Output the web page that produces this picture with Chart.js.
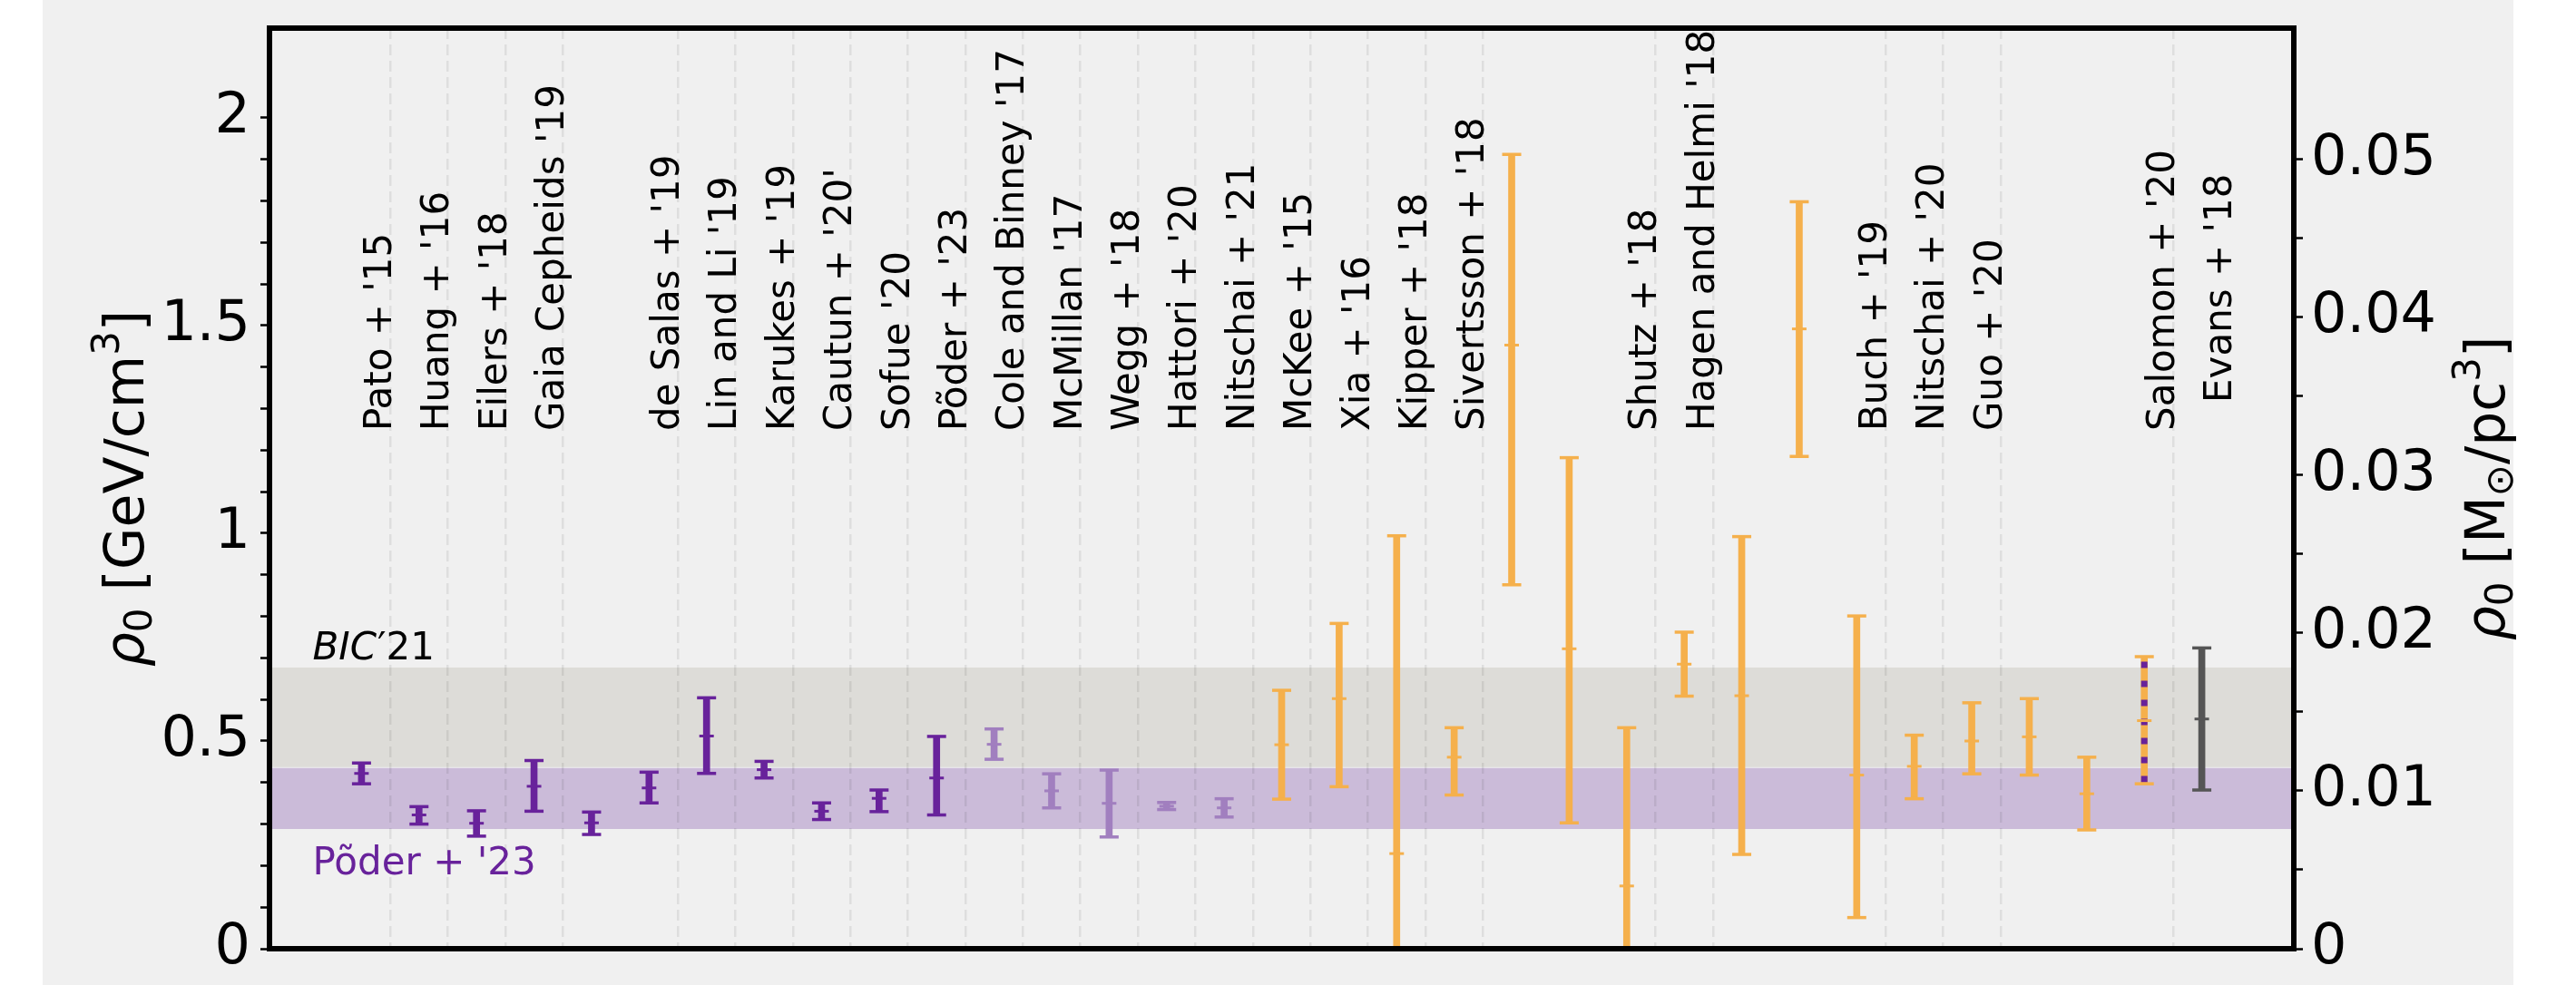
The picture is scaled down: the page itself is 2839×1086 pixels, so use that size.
<!DOCTYPE html>
<html lang="en">
<head>
<meta charset="utf-8">
<title>Local dark matter density</title>
<script src="https://cdn.jsdelivr.net/npm/chart.js@4.4.1/dist/chart.umd.min.js"></script>
<style>
  html, body { margin: 0; padding: 0; background: #ffffff; }
  #stage { position: relative; width: 2839px; height: 1086px; overflow: hidden; }
  #panel { position: absolute; left: 47px; top: 0; width: 2723px; height: 1086px; background: #f0f0f0; }
  #chart { position: absolute; left: 0; top: 0; }
</style>
</head>
<body>
<div id="stage">
  <div id="panel"></div>
  <canvas id="chart" width="2839" height="1086"></canvas>
</div>
<script>
// One entry per measurement ('' = measurement drawn without a caption)
const studies = [
  "Pato + '15", "Huang + '16", "Eilers + '18", "Gaia Cepheids '19", "",
  "de Salas + '19", "Lin and Li '19", "Karukes + '19", "Cautun + '20'", "Sofue '20",
  "Põder + '23", "Cole and Binney '17", "McMillan '17", "Wegg + '18", "Hattori + '20",
  "Nitschai + '21", "McKee + '15", "Xia + '16", "Kipper + '18", "Sivertsson + '18",
  "", "", "Shutz + '18", "Hagen and Helmi '18", "",
  "", "Buch + '19", "Nitschai + '20", "Guo + '20", "",
  "", "Salomon + '20", "Evans + '18"
];

// rho_0 [GeV/cm^3]: central value, lower and upper end of the error bar
const rho = [
  0.422, 0.322, 0.302, 0.391, 0.303, 0.387, 0.512, 0.431, 0.331, 0.362,
  0.411, 0.492, 0.380, 0.350, 0.343, 0.339, 0.491, 0.602, 0.229, 0.461,
  1.453, 0.722, 0.151, 0.685, 0.609, 1.492, 0.418, 0.439, 0.500, 0.510,
  0.373, 0.549, 0.553
];
const rhoLow = [
  0.397, 0.300, 0.271, 0.331, 0.275, 0.351, 0.422, 0.411, 0.311, 0.330,
  0.322, 0.456, 0.339, 0.269, 0.335, 0.317, 0.360, 0.390, -0.536, 0.370,
  0.876, 0.303, -0.230, 0.608, 0.227, 1.185, 0.075, 0.361, 0.421, 0.418,
  0.286, 0.397, 0.382
];
const rhoHigh = [
  0.447, 0.342, 0.332, 0.453, 0.329, 0.425, 0.604, 0.451, 0.351, 0.382,
  0.511, 0.529, 0.421, 0.430, 0.352, 0.361, 0.622, 0.783, 0.994, 0.532,
  1.912, 1.182, 0.532, 0.762, 0.992, 1.798, 0.801, 0.514, 0.592, 0.602,
  0.461, 0.703, 0.724
];

// Method group of each measurement
const method = [
  "A", "A", "A", "A", "A", "A", "A", "A", "A", "A", "A",
  "B", "B", "B", "B", "B",
  "C", "C", "C", "C", "C", "C", "C", "C", "C", "C", "C", "C", "C", "C", "C",
  "AC", "D"
];

// Shaded reference ranges [GeV/cm^3]
const bicBand = [0.437, 0.677];
const poderBand = [0.288, 0.435];

// Axis tick labels
const gevTicks = [0, 0.5, 1, 1.5, 2];
const msunTicks = [0, 0.01, 0.02, 0.03, 0.04, 0.05];

const GEV_PER_MSUN_PC3 = 38.0;
const X_MIN = -1.6, X_MAX = 33.6, Y_MAX = 2.216;

const methodColor = { A: "#68229b", B: "#a17fbf", C: "#f5b04c", AC: "#f5b04c", D: "#555555" };
const colors = method.map(m => methodColor[m]);
const idx = studies.map((_, i) => i);
const FONT = '"DejaVu Sans"';

// major ticks plus evenly spaced minor ticks between them
function withMinor(majors, parts) {
  const out = [];
  majors.forEach((v, i) => {
    out.push({ value: v, major: true });
    if (i < majors.length - 1) {
      const step = (majors[i + 1] - v) / parts;
      for (let k = 1; k < parts; k++) out.push({ value: v + k * step, major: false });
    }
  });
  return out;
}

// dashed guide after every captioned study except the last one
const gridAt = idx.filter(i => studies[i] && i < studies.length - 1).map(i => i + 0.5);

function band(range, color) {
  return [
    { type: "line", data: [{ x: X_MIN, y: range[1] }, { x: X_MAX, y: range[1] }],
      borderColor: "transparent", borderWidth: 0, pointRadius: 0, fill: false, order: 10 },
    { type: "line", data: [{ x: X_MIN, y: range[0] }, { x: X_MAX, y: range[0] }],
      borderColor: "transparent", borderWidth: 0, pointRadius: 0, fill: "-1",
      backgroundColor: color, order: 10 }
  ];
}

function markers(values, radius, width) {
  return {
    type: "line", showLine: false,
    data: idx.map(i => ({ x: i, y: values[i] })),
    pointStyle: "line", pointRadius: radius, pointBorderWidth: width,
    pointBorderColor: colors, pointBackgroundColor: colors, clip: 0, order: 4
  };
}

const mixed = method.indexOf("AC");

const datasets = [
  ...band(bicBand, "#dddcd8"),
  ...band(poderBand, "#cbbbd9"),
  { type: "bar", data: idx.map(i => ({ x: i, y: [rhoLow[i], rhoHigh[i]] })),
    backgroundColor: colors, barThickness: 7, borderWidth: 0, clip: 0, order: 5 },
  { type: "line",
    data: [{ x: mixed, y: rhoLow[mixed] }, { x: mixed, y: rhoHigh[mixed] }],
    borderColor: methodColor.A, borderWidth: 7, borderDash: [7, 14], borderDashOffset: 19.3,
    borderCapStyle: "butt", pointRadius: 0, fill: false, clip: 0, order: 4.5 },
  markers(rhoLow, 10.5, 3.5),
  markers(rhoHigh, 10.5, 3.5),
  markers(rho, 8, 3)
];

function richText(ctx, parts, size, x, y) {
  ctx.save();
  ctx.translate(x, y);
  ctx.rotate(-Math.PI / 2);
  ctx.textBaseline = "alphabetic";
  ctx.textAlign = "left";
  const fontOf = p => `${p.italic ? "italic " : ""}${Math.round(size * (p.scale || 1))}px ${FONT}`;
  const widths = parts.map(p => { ctx.font = fontOf(p); return ctx.measureText(p.t).width; });
  let cx = -widths.reduce((s, w) => s + w, 0) / 2;
  parts.forEach((p, i) => {
    ctx.font = fontOf(p);
    ctx.fillText(p.t, cx, -(p.rise || 0) * size);
    cx += widths[i];
  });
  ctx.restore();
}

const decorations = {
  id: "decorations",
  afterDraw(chart) {
    const { ctx, chartArea: a, scales: { x, y } } = chart;
    ctx.save();

    // study captions, read bottom-to-top, baseline on the guide line
    ctx.fillStyle = "#000";
    ctx.font = `42px ${FONT}`;
    ctx.textAlign = "left";
    ctx.textBaseline = "alphabetic";
    studies.forEach((name, i) => {
      if (!name) return;
      const lift = i === studies.length - 1 ? 31 : 0;
      ctx.save();
      ctx.translate(x.getPixelForValue(i + 0.5) + 1, a.top + 444 - lift);
      ctx.rotate(-Math.PI / 2);
      ctx.fillText(name, 0, 0);
      ctx.restore();
    });

    // band captions
    const bx = x.getPixelForValue(-0.85);
    ctx.font = `italic 42px ${FONT}`;
    ctx.fillStyle = "#000";
    const by = y.getPixelForValue(0.697);
    ctx.fillText("BIC", bx, by);
    const w = ctx.measureText("BIC").width;
    ctx.font = `42px ${FONT}`;
    ctx.fillText("\u203221", bx + w + 1, by);
    ctx.fillStyle = methodColor.A;
    ctx.fillText("Põder + '23", bx, y.getPixelForValue(0.18));

    // frame
    ctx.lineWidth = 6;
    ctx.strokeStyle = "#000";
    ctx.strokeRect(a.left, a.top, a.right - a.left, a.bottom - a.top);

    // axis titles
    ctx.fillStyle = "#000";
    const mid = (a.top + a.bottom) / 2;
    richText(ctx, [
      { t: "\u03c1", italic: true }, { t: "0", scale: 0.7, rise: -0.15 },
      { t: " [GeV/cm" }, { t: "3", scale: 0.7, rise: 0.45 }, { t: "]" }
    ], 60, 158, mid);
    richText(ctx, [
      { t: "\u03c1", italic: true }, { t: "0", scale: 0.7, rise: -0.15 },
      { t: " [M" }, { t: "\u2299", scale: 0.7, rise: -0.15 }, { t: "/pc" },
      { t: "3", scale: 0.7, rise: 0.45 }, { t: "]" }
    ], 60, 2760, mid);

    ctx.restore();
  }
};

const tickMarks = { drawOnChartArea: false, drawTicks: true, tickLength: 10, tickWidth: 2.5, tickColor: "#000" };

// fixed box sizes so the plot area sits at the same place every time
const fixWidth = w => s => { s.width = w; s.paddingTop = 0; s.paddingBottom = 0; };

new Chart(document.getElementById("chart"), {
  type: "bar",
  data: { datasets },
  options: {
    responsive: false,
    animation: false,
    devicePixelRatio: 1,
    events: [],
    layout: { padding: { top: 31, left: 0, right: 0, bottom: 0 } },
    plugins: { legend: { display: false }, tooltip: { enabled: false } },
    scales: {
      x: {
        type: "linear", position: "bottom", min: X_MIN, max: X_MAX, offset: false,
        afterBuildTicks: s => { s.ticks = gridAt.map(v => ({ value: v })); },
        ticks: { display: false },
        grid: { offset: false, color: "rgba(0,0,0,0.075)", lineWidth: 2.5, drawTicks: false, z: 1 },
        border: { display: false, dash: [12, 6] },
        afterFit: s => { s.height = 40; s.paddingLeft = 0; s.paddingRight = 0; }
      },
      y: {
        type: "linear", position: "left", min: 0, max: Y_MAX,
        afterBuildTicks: s => { s.ticks = withMinor(gevTicks, 5); },
        ticks: {
          autoSkip: false, padding: 11, color: "#000", font: { family: "DejaVu Sans", size: 62 },
          callback: (v, i, t) => (t[i].major ? String(v) : "")
        },
        grid: tickMarks,
        border: { display: false },
        afterFit: fixWidth(297)
      },
      y2: {
        type: "linear", position: "right", min: 0, max: Y_MAX / GEV_PER_MSUN_PC3,
        afterBuildTicks: s => { s.ticks = withMinor(msunTicks, 2); },
        ticks: {
          autoSkip: false, padding: 9, color: "#000", font: { family: "DejaVu Sans", size: 62 },
          callback: (v, i, t) => (t[i].major ? String(v) : "")
        },
        grid: tickMarks,
        border: { display: false },
        afterFit: fixWidth(311)
      }
    }
  },
  plugins: [decorations]
});
</script>
</body>
</html>
